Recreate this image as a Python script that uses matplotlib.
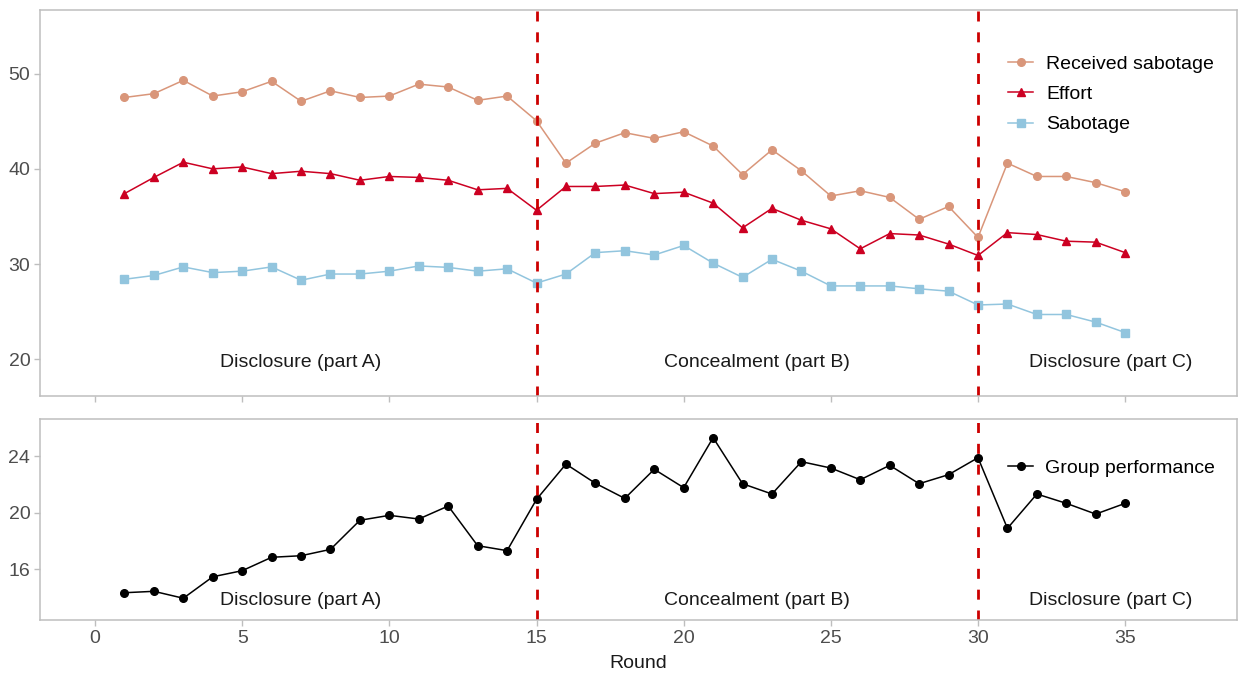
import matplotlib
matplotlib.use("Agg")
import matplotlib.pyplot as plt
import numpy as np

plt.rcParams['font.family'] = ['Liberation Sans', 'DejaVu Sans']

rounds = list(range(1, 36))
received_sabotage = [47.5, 47.9, 49.3, 47.65, 48.1, 49.2, 47.1, 48.2, 47.5, 47.65,
                     48.9, 48.6, 47.2, 47.65, 45.05, 40.6, 42.7, 43.8, 43.2, 43.9,
                     42.4, 39.4, 42.0, 39.8, 37.15, 37.7, 37.0, 34.7, 36.05, 32.8,
                     40.6, 39.2, 39.2, 38.55, 37.6]
effort = [37.4, 39.1, 40.7, 40.0, 40.2, 39.5, 39.75, 39.5, 38.8, 39.2,
          39.1, 38.8, 37.8, 37.95, 35.65, 38.15, 38.15, 38.3, 37.4, 37.55,
          36.4, 33.8, 35.85, 34.6, 33.7, 31.6, 33.2, 33.05, 32.1, 30.9,
          33.3, 33.1, 32.4, 32.3, 31.2]
sabotage = [28.4, 28.8, 29.7, 29.1, 29.25, 29.7, 28.3, 28.95, 28.95, 29.25,
            29.8, 29.65, 29.25, 29.5, 28.0, 28.95, 31.2, 31.4, 30.95, 31.95,
            30.1, 28.6, 30.5, 29.25, 27.7, 27.7, 27.7, 27.4, 27.15, 25.7,
            25.8, 24.7, 24.7, 23.9, 22.8]
group_performance = [14.32, 14.42, 13.93, 15.45, 15.88, 16.83, 16.94, 17.39, 19.45, 19.80,
                     19.54, 20.46, 17.65, 17.30, 20.93, 23.43, 22.07, 21.0, 23.06, 21.76,
                     25.30, 22.04, 21.31, 23.6, 23.15, 22.32, 23.34, 22.04, 22.68, 23.88,
                     18.88, 21.31, 20.65, 19.89, 20.65]

phase_breaks = [15, 30]
phase_labels = ["Disclosure (part A)", "Concealment (part B)", "Disclosure (part C)"]
phase_label_x = [7, 22.5, 34.5]

c_recv = "#D9967A"
c_eff = "#CC0022"
c_sab = "#92C5DE"
c_vline = "#CC0000"
c_frame = "#BEBEBE"
c_tick = "#4D4D4D"
c_text = "#1a1a1a"

fig = plt.figure(figsize=(12.38, 6.75), dpi=100)
ax1 = fig.add_axes([0.0323, 0.4138, 0.9669, 0.5718])
ax2 = fig.add_axes([0.0323, 0.0815, 0.9669, 0.2973])

fs = 14
vstyle = dict(color=c_vline, ls=(0, (3.6, 3.9)), lw=2.0)

def style(ax):
    for s in ax.spines.values():
        s.set_color(c_frame)
        s.set_linewidth(1.1)
    ax.tick_params(axis='both', colors=c_frame, length=4, width=1.0,
                   labelcolor=c_tick, labelsize=fs, pad=3)
    ax.set_xlim(-1.87, 38.8)
    ax.set_xticks([0, 5, 10, 15, 20, 25, 30, 35])

ax1.plot(rounds, received_sabotage, color=c_recv, marker='o', ms=5.5, lw=1.1,
         label="Received sabotage")
ax1.plot(rounds, effort, color=c_eff, marker='^', ms=6, lw=1.1, label="Effort")
ax1.plot(rounds, sabotage, color=c_sab, marker='s', ms=5.5, lw=1.1, label="Sabotage")
ax1.set_ylim(16.17, 56.72)
ax1.set_yticks([20, 30, 40, 50])
style(ax1)
ax1.set_xticklabels([])
for b in phase_breaks:
    ax1.axvline(b, **vstyle)
for x, t in zip(phase_label_x, phase_labels):
    ax1.text(x, 19.7, t, ha='center', va='center', fontsize=fs, color=c_text)
ax1.legend(loc='upper left', bbox_to_anchor=(0.8087, 0.882), frameon=False,
           fontsize=fs, handlelength=1.3, handletextpad=0.65, labelspacing=0.65,
           borderpad=0, borderaxespad=0)

ax2.plot(rounds, group_performance, color='black', marker='o', ms=5.5, lw=1.1,
         label="Group performance")
ax2.set_ylim(12.39, 26.6)
ax2.set_yticks([16, 20, 24])
style(ax2)
for b in phase_breaks:
    ax2.axvline(b, **vstyle)
for x, t in zip(phase_label_x, phase_labels):
    ax2.text(x, 13.75, t, ha='center', va='center', fontsize=fs, color=c_text)
ax2.legend(loc='upper left', bbox_to_anchor=(0.8087, 0.80), frameon=False,
           fontsize=fs, handlelength=1.3, handletextpad=0.6,
           borderpad=0, borderaxespad=0)
ax2.set_xlabel("Round", fontsize=fs, color=c_text, labelpad=6)

fig.savefig("out.png", dpi=100)
